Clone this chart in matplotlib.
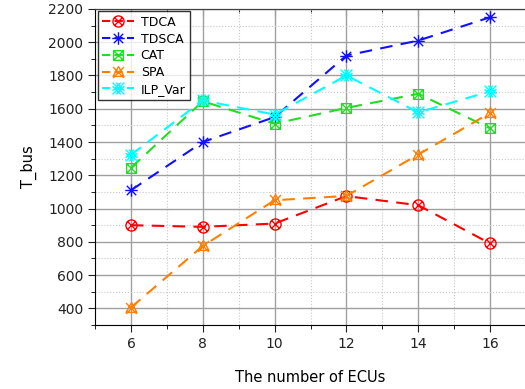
import matplotlib
matplotlib.use("Agg")
import matplotlib.pyplot as plt
import numpy as np
from matplotlib.path import Path
from matplotlib.ticker import MultipleLocator

# number of ECUs and bus time for each method
ecus = [6, 8, 10, 12, 14, 16]
tdca = [900, 890, 910, 1075, 1020, 790]
tdsca = [1110, 1400, 1550, 1920, 2010, 2150]
cat = [1245, 1645, 1510, 1605, 1690, 1482]
spa = [405, 775, 1050, 1076, 1325, 1575]
ilp_var = [1323, 1650, 1565, 1800, 1578, 1705]


def cross_lines(r):
    verts = [(-r, -r), (r, r), (-r, r), (r, -r)]
    codes = [Path.MOVETO, Path.LINETO, Path.MOVETO, Path.LINETO]
    return Path(verts, codes)


# Origin-style open symbols with an X inside
circ_x = Path.make_compound_path(Path.unit_circle(), cross_lines(0.7))
sq = Path([(-1, -1), (1, -1), (1, 1), (-1, 1), (-1, -1)],
          [Path.MOVETO, Path.LINETO, Path.LINETO, Path.LINETO, Path.CLOSEPOLY])
sq_x = Path.make_compound_path(sq, cross_lines(1))
tri = Path([(0, 1.2), (-1.1, -0.8), (1.1, -0.8), (0, 1.2)],
           [Path.MOVETO, Path.LINETO, Path.LINETO, Path.CLOSEPOLY])
tri_x = Path.make_compound_path(tri, cross_lines(1.1))
ast = Path([(0, -1), (0, 1), (-1, 0), (1, 0), (-0.75, -0.75), (0.75, 0.75),
            (-0.75, 0.75), (0.75, -0.75)],
           [Path.MOVETO, Path.LINETO] * 4)
dbl_x = Path.make_compound_path(cross_lines(0.9),
                                Path([(-0.9, -0.35), (0.35, 0.9), (-0.35, -0.9), (0.9, 0.35),
                                      (-0.9, 0.35), (0.35, -0.9), (-0.35, 0.9), (0.9, -0.35)],
                                     [Path.MOVETO, Path.LINETO] * 4))

series = [
    ("TDCA", tdca, "#ff0000", circ_x, 8),
    ("TDSCA", tdsca, "#1010ff", ast, 9),
    ("CAT", cat, "#22dd22", sq_x, 7),
    ("SPA", spa, "#ff8000", tri_x, 8.5),
    ("ILP_Var", ilp_var, "#00ffff", dbl_x, 8.5),
]

fig = plt.figure(figsize=(5.25, 3.89), dpi=100)
ax = fig.add_axes([0.181, 0.1645, 0.821, 0.8125])

for name, vals, col, mk, ms in series:
    ax.plot(ecus, vals, color=col, lw=1.5, dashes=(6, 4), marker=mk,
            markersize=ms, markerfacecolor="none", markeredgecolor=col,
            markeredgewidth=1.0, label=name)

ax.set_xlim(5, 17)
ax.set_ylim(300, 2200)
ax.xaxis.set_major_locator(MultipleLocator(2))
ax.xaxis.set_minor_locator(MultipleLocator(1))
ax.yaxis.set_minor_locator(MultipleLocator(100))
ax.set_yticks(np.arange(400, 2201, 200))

ax.grid(which="major", color="#a0a0a0", lw=1.0)
ax.grid(which="minor", color="#c8c8c8", lw=0.8, ls=":")
ax.set_axisbelow(True)

ax.tick_params(axis="both", which="major", direction="out", length=5,
               labelsize=10, colors="#222222")
ax.tick_params(axis="both", which="minor", direction="out", length=3)
for s in ["left", "bottom"]:
    ax.spines[s].set_color("black")
ax.spines["top"].set_color("#404040")
ax.spines["right"].set_visible(False)

# inward ticks along the top edge
top = ax.secondary_xaxis("top")
top.xaxis.set_major_locator(MultipleLocator(2))
top.xaxis.set_minor_locator(MultipleLocator(1))
top.tick_params(which="major", direction="in", length=5, labeltop=False)
top.tick_params(which="minor", direction="in", length=3)
top.spines["top"].set_color("#404040")

ax.set_xlabel("The number of ECUs", fontsize=10.5, labelpad=14)
ax.set_ylabel("T_bus", fontsize=10.5, labelpad=8)

leg = ax.legend(loc="upper left", fontsize=9, frameon=True, fancybox=False,
                edgecolor="black", borderaxespad=0.2, handlelength=2.6,
                handletextpad=0.5, labelspacing=0.3, borderpad=0.35)
leg.get_frame().set_linewidth(1.0)
for h in leg.get_lines():
    h.set_dashes((4, 2))

fig.savefig("out.png", dpi=100)
